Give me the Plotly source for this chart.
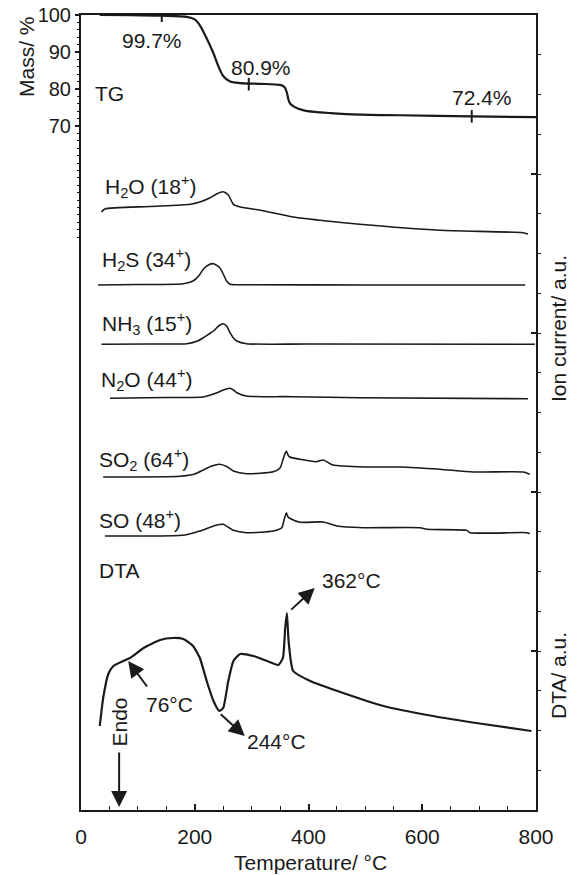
import plotly.graph_objects as go

# ---------------- data ----------------
# TG (mass %)
tg_T = [33, 86, 142, 186, 200, 209, 220, 232, 242, 250, 262, 280, 315, 350, 358, 362, 365, 368, 376, 390, 411, 438, 491, 561, 687, 800]
tg_m = [100, 99.95, 99.8, 99.5, 98.8, 97.2, 94, 90, 86, 83.5, 82, 81.6, 81.4, 81.1, 80.5, 79, 77, 76, 75.1, 74.3, 73.8, 73.5, 73.1, 72.9, 72.6, 72.4]
tg_mark_T = [142, 295, 687]
tg_mark_m = [99.8, 81.3, 72.6]
tg_labels = ["99.7%", "80.9%", "72.4%"]

# Ion currents (a.u., offset stacked)
h2o_T = [36, 42, 120, 192, 209, 227, 239, 250, 259, 268, 280, 315, 373, 432, 490, 631, 777, 786]
h2o_v = [598, 601, 603.5, 605.7, 608, 612.3, 616.3, 618.3, 615, 605.7, 603, 599.7, 593, 589, 585.7, 579.7, 577.3, 576]

h2s_T = [30, 100, 180, 197, 207, 215, 224, 233, 244, 250, 256, 262, 300, 500, 781]
h2s_v = [525, 525.5, 526.3, 529, 534, 540.7, 545, 546.3, 542.3, 536, 529, 525.7, 525.3, 525, 525]

nh3_T = [36, 120, 186, 205, 215, 225, 233, 242, 250, 256, 262, 268, 274, 291, 400, 798]
nh3_v = [465.7, 466, 466.3, 469, 472.3, 476, 479, 484, 486.3, 484, 477.3, 472, 469, 466.3, 466, 465.7]

n2o_T = [51, 150, 215, 228, 239, 250, 262, 268, 274, 291, 373, 490, 786]
n2o_v = [411.7, 412.5, 413, 415, 417.3, 420, 421.7, 420, 417.3, 414, 413.3, 412.3, 411.3]

so2_T = [39, 174, 200, 215, 230, 244, 256, 268, 291, 338, 350, 356, 361, 364, 367, 385, 414, 426, 443, 502, 561, 631, 690, 778, 789]
so2_v = [333, 333.7, 336, 340, 344, 345.7, 343.5, 339, 336.3, 338.3, 342, 352, 359, 355, 353, 350.7, 348.3, 350, 345, 343, 343, 340.7, 338, 338, 335.7]

so_T = [42, 183, 209, 239, 250, 268, 291, 338, 353, 357, 361, 364, 367, 385, 426, 450, 496, 596, 608, 678, 684, 784, 789]
so_v = [274, 275, 279, 285, 285.7, 279.7, 277.3, 279, 282.3, 290, 297.3, 293, 291.7, 287.8, 288, 284, 282.3, 282.3, 280.7, 279.7, 277.3, 277.3, 276.3]

ms_names = ["H<sub>2</sub>O (18<sup>+</sup>)", "H<sub>2</sub>S (34<sup>+</sup>)", "NH<sub>3</sub> (15<sup>+</sup>)",
            "N<sub>2</sub>O (44<sup>+</sup>)", "SO<sub>2</sub> (64<sup>+</sup>)", "SO (48<sup>+</sup>)"]
ms_label_T = [39, 33, 33, 32, 28, 28]
ms_label_v = [624, 551, 487, 431, 351, 291]

# DTA (a.u.)
dta_T = [33, 39, 48, 57, 74, 86, 110, 139, 162, 180, 197, 209, 221, 233, 243, 250, 259, 268, 280, 303, 327, 347, 355, 359, 362, 365, 373, 403, 461, 532, 619, 707, 792]
dta_v = [84, 112, 136, 144, 149, 152, 162, 170, 172, 171, 164, 152, 129, 109, 99, 102, 129, 149, 156, 154, 149, 145, 152, 182, 197, 169, 139, 129, 117, 104, 94, 86, 79]

x_ticks = [0, 200, 400, 600, 800]
mass_ticks = [100, 90, 80, 70, 60, 50, 40]
mass_ticktext = ["100", "90", "80", "70", "", "", ""]

# ---------------- figure ----------------
FONT = "Liberation Sans, Arial, sans-serif"
INK = "#1a1a1a"
W, H = 577, 875
ML, MR, MT, MB = 81, 41, 15, 65
fig = go.Figure()

fig.add_trace(go.Scatter(x=tg_T, y=tg_m, mode="lines", yaxis="y",
                         line=dict(color=INK, width=2.2, shape="spline", smoothing=0.8), showlegend=False))
fig.add_trace(go.Scatter(x=tg_mark_T, y=tg_mark_m, mode="markers", yaxis="y",
                         marker=dict(symbol="line-ns", size=9, line=dict(color=INK, width=2)), showlegend=False))

for T, v in [(h2o_T, h2o_v), (h2s_T, h2s_v), (nh3_T, nh3_v), (n2o_T, n2o_v), (so2_T, so2_v), (so_T, so_v)]:
    fig.add_trace(go.Scatter(x=T, y=v, mode="lines", yaxis="y2",
                             line=dict(color=INK, width=1.6, shape="spline", smoothing=0.6), showlegend=False))

fig.add_trace(go.Scatter(x=dta_T, y=dta_v, mode="lines", yaxis="y2",
                         line=dict(color=INK, width=2.2, shape="spline", smoothing=0.5), showlegend=False))

ann = []
tf = dict(family=FONT, size=21, color=INK)
C = dict(xanchor="center", yanchor="middle")
# TG labels
for T, m, txt in zip([125, 316, 705], [93.2, 85.7, 77.8], tg_labels):
    ann.append(dict(x=T, y=m, xref="x", yref="y", text=txt, showarrow=False, font=tf, **C))
ann.append(dict(x=21, y=78.9, xref="x", yref="y", text="TG", showarrow=False, xanchor="left", yanchor="middle", font=tf))
# MS labels
for T, v, txt in zip(ms_label_T, ms_label_v, ms_names):
    ann.append(dict(x=T, y=v, xref="x", yref="y2", text=txt, showarrow=False, xanchor="left", yanchor="middle", font=tf))
ann.append(dict(x=28, y=240, xref="x", yref="y2", text="DTA", showarrow=False, xanchor="left", yanchor="middle", font=tf))
# DTA arrows
arrow = dict(showarrow=True, arrowhead=2, arrowsize=1.6, arrowwidth=2, arrowcolor=INK,
             xref="x", yref="y2", axref="x", ayref="y2", text="")
ann.append(dict(arrow, x=83, y=149, ax=118, ay=122))
ann.append(dict(arrow, x=288, y=74, ax=243, ay=97))
ann.append(dict(arrow, x=411, y=222, ax=367, ay=199))
ann.append(dict(arrow, x=67, y=3, ax=67, ay=59))
ann.append(dict(x=155, y=106, xref="x", yref="y2", text="76°C", showarrow=False, font=tf, **C))
ann.append(dict(x=343, y=69, xref="x", yref="y2", text="244°C", showarrow=False, font=tf, **C))
ann.append(dict(x=475, y=230, xref="x", yref="y2", text="362°C", showarrow=False, font=tf, **C))
ann.append(dict(x=66, y=88, xref="x", yref="y2", text="Endo", showarrow=False, textangle=-90, font=tf, **C))


def px_x(p):
    return (p - ML) / (W - ML - MR)


def px_y(p):
    return (H - MB - p) / (H - MT - MB)


ann.append(dict(x=px_x(27), y=px_y(57), xref="paper", yref="paper", text="Mass/ %", showarrow=False,
                textangle=-90, font=tf, **C))
ann.append(dict(x=px_x(558), y=px_y(329), xref="paper", yref="paper", text="Ion current/ a.u.", showarrow=False,
                textangle=-90, font=tf, **C))
ann.append(dict(x=px_x(558), y=px_y(676), xref="paper", yref="paper", text="DTA/ a.u.", showarrow=False,
                textangle=-90, font=tf, **C))
ann.append(dict(x=px_x(310), y=px_y(862), xref="paper", yref="paper", text="Temperature/ °C", showarrow=False,
                font=tf, **C))

fig.update_layout(
    width=W, height=H,
    margin=dict(l=ML, r=MR, t=MT, b=MB, autoexpand=False),
    paper_bgcolor="white", plot_bgcolor="white",
    font=dict(family=FONT, size=20, color=INK),
    xaxis=dict(range=[0, 800], tickvals=x_ticks, ticks="inside", ticklen=6, tickwidth=1.5, tickcolor=INK,
               showline=True, linewidth=2, linecolor=INK, mirror=True, showgrid=False, zeroline=False,
               ticklabelstandoff=7, tickfont=dict(size=21), automargin=False,
               minor=dict(dtick=50, ticks="inside", ticklen=4, tickcolor=INK, tickwidth=1.2, showgrid=False)),
    yaxis=dict(range=[100 - (H - MT - MB) / 3.7, 100], tickmode="array", tickvals=mass_ticks, ticktext=mass_ticktext,
               ticks="outside", ticklen=4, tickwidth=1.5, tickcolor=INK, showline=True, linewidth=2, linecolor=INK,
               showgrid=False, zeroline=False, tickfont=dict(size=20), automargin=False,
               minor=dict(tickmode="array", tickvals=list(range(40, 101, 2)), ticks="outside", ticklen=2,
                          tickcolor=INK, tickwidth=1.2, showgrid=False)),
    yaxis2=dict(range=[0, 795], overlaying="y", side="right", showticklabels=False, dtick=159,
                ticks="inside", ticklen=5, tickwidth=1.5, tickcolor=INK, showline=True, linewidth=2, linecolor=INK,
                showgrid=False, zeroline=False, automargin=False,
                minor=dict(dtick=39.75, ticks="outside", ticklen=3, tickcolor=INK, tickwidth=1.2, showgrid=False)),
    annotations=ann,
)

fig.write_html("out.html", config={"displayModeBar": False},
               post_script="document.body.style.margin='0';document.body.style.padding='0';")
